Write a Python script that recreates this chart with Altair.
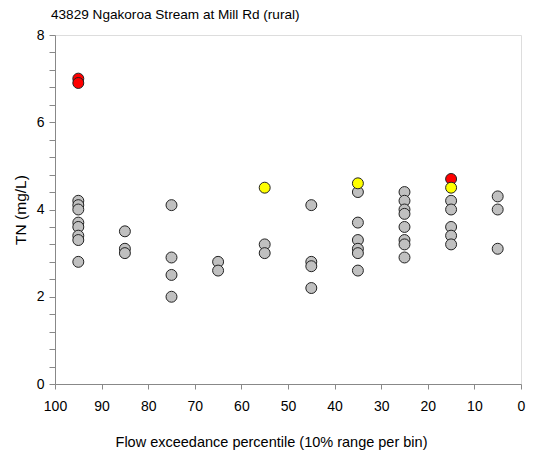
import altair as alt
import pandas as pd

# Data
bins = [95, 85, 75, 65, 55, 45, 35, 25, 15, 5]
gray_vals = {
    95: [4.2, 4.1, 4.0, 3.7, 3.6, 3.4, 3.3, 2.8],
    85: [3.5, 3.1, 3.0],
    75: [4.1, 2.9, 2.5, 2.0],
    65: [2.8, 2.6],
    55: [3.2, 3.0],
    45: [4.1, 2.8, 2.7, 2.2],
    35: [4.4, 3.7, 3.3, 3.1, 3.0, 2.6],
    25: [4.4, 4.2, 4.0, 3.9, 3.6, 3.3, 3.2, 2.9],
    15: [4.2, 4.0, 3.6, 3.4, 3.2],
    5: [4.3, 4.0, 3.1],
}
yellow_x = [55, 35, 15]
yellow_y = [4.5, 4.6, 4.5]
red_x = [95, 95, 15]
red_y = [7.0, 6.9, 4.7]

rows = []
for b in bins:
    for v in gray_vals[b]:
        rows.append({"x": b, "y": v, "c": "gray"})
for x, y in zip(yellow_x, yellow_y):
    rows.append({"x": x, "y": y, "c": "yellow"})
for x, y in zip(red_x, red_y):
    rows.append({"x": x, "y": y, "c": "red"})
df = pd.DataFrame(rows)

x_ticks = list(range(0, 101, 10))
y_ticks = [round(i * 0.4, 1) for i in range(21)]

FONT = "Liberation Sans"

chart = alt.Chart(df, title=alt.Title(
    "43829 Ngakoroa Stream at Mill Rd (rural)",
    anchor="start", frame="group", dx=-4, offset=6,
    font=FONT, fontSize=13.6, fontWeight="normal", color="black",
)).mark_point(filled=True, size=120, stroke="#222222", strokeWidth=1, opacity=1).encode(
    x=alt.X("x:Q", scale=alt.Scale(domain=[100, 0], nice=False, zero=False),
            axis=alt.Axis(values=x_ticks, title="Flow exceedance percentile (10% range per bin)",
                          grid=False, tickSize=5, labelPadding=10, titlePadding=22,
                          labelFlush=False, titleX=216, titleAlign="center",
                          labelFontSize=14, titleFontSize=14.5, titleFontWeight="normal")),
    y=alt.Y("y:Q", scale=alt.Scale(domain=[0, 8], nice=False),
            axis=alt.Axis(values=y_ticks, title="TN (mg/L)",
                          labelExpr="datum.value % 2 == 0 ? toString(round(datum.value)) : ''",
                          grid=False, tickSize=6, labelPadding=5, titlePadding=8,
                          labelFlush=False,
                          labelFontSize=14, titleFontSize=15.5, titleFontWeight="normal")),
    fill=alt.Fill("c:N", scale=alt.Scale(domain=["gray", "yellow", "red"],
                                         range=["#c0c0c0", "#ffff00", "#ff0000"]), legend=None),
    order=alt.Order("c:N"),
).properties(
    width=466, height=349,
    autosize=alt.AutoSizeParams(type="none"),
    padding={"left": 47, "top": 27, "right": 5, "bottom": 67},
).configure_view(stroke="#333333", strokeWidth=1.2).configure_axis(
    domainColor="#333333", tickColor="#333333", labelColor="black", titleColor="black",
    labelFont=FONT, titleFont=FONT, domainWidth=1.2,
).configure(background="white")

chart.save("out.html", embed_options={"renderer": "svg", "actions": False})
